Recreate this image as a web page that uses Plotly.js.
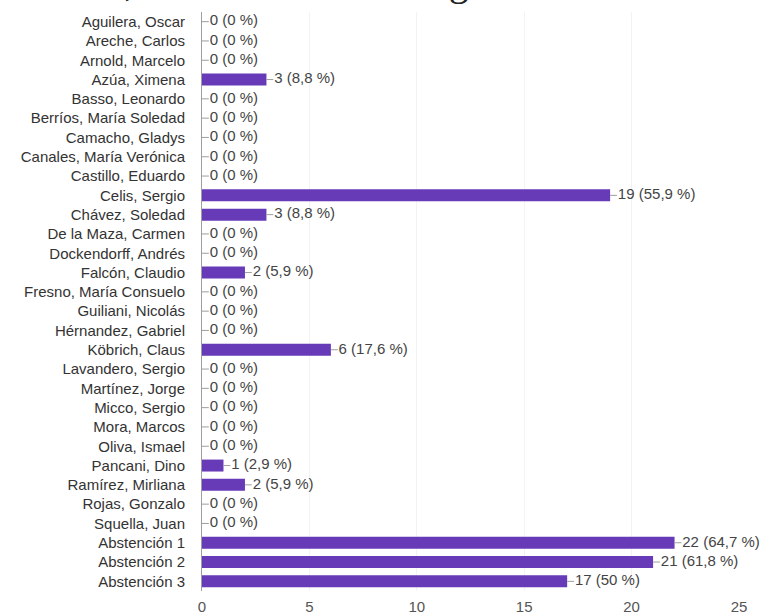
<!DOCTYPE html>
<html>
<head>
<meta charset="utf-8">
<script src="https://cdn.plot.ly/plotly-3.0.1.min.js"></script>
<style>
  html, body { margin: 0; padding: 0; background: #fff; overflow: hidden; }
  #wrap { position: relative; width: 770px; height: 616px; overflow: hidden; }
  #cut { position: absolute; left: -142px; top: -38px; font-family: "Liberation Serif", "DejaVu Serif", serif;
         font-size: 40px; color: #222; white-space: nowrap; line-height: 40px; }
  #chart { position: absolute; left: 0; top: 0; width: 770px; height: 616px; }
</style>
</head>
<body>
<div id="wrap">
  <div id="chart"></div>
  <div id="cut">adalta a elección, el resultado es el siguiente:</div>
</div>
<script>
const names = [
  "Aguilera, Oscar", "Areche, Carlos", "Arnold, Marcelo", "Azúa, Ximena", "Basso, Leonardo",
  "Berríos, María Soledad", "Camacho, Gladys", "Canales, María Verónica", "Castillo, Eduardo",
  "Celis, Sergio", "Chávez, Soledad", "De la Maza, Carmen", "Dockendorff, Andrés",
  "Falcón, Claudio", "Fresno, María Consuelo", "Guiliani, Nicolás", "Hérnandez, Gabriel",
  "Köbrich, Claus", "Lavandero, Sergio", "Martínez, Jorge", "Micco, Sergio", "Mora, Marcos",
  "Oliva, Ismael", "Pancani, Dino", "Ramírez, Mirliana", "Rojas, Gonzalo", "Squella, Juan",
  "Abstención 1", "Abstención 2", "Abstención 3"
];
const votes = [0, 0, 0, 3, 0, 0, 0, 0, 0, 19, 3, 0, 0, 2, 0, 0, 0, 6, 0, 0, 0, 0, 0, 1, 2, 0, 0, 22, 21, 17];
const totalVoters = 34;
const xTicks = [0, 5, 10, 15, 20, 25];

function pct(v) {
  let s = (Math.round(v / totalVoters * 1000) / 10).toFixed(1);
  if (s.endsWith(".0")) s = s.slice(0, -2);
  return s.replace(".", ",");
}
const labels = votes.map(v => v + " (" + pct(v) + " %)");

const barTrace = {
  type: "bar", orientation: "h", x: votes, y: names,
  marker: { color: "#673ab7" }, width: 0.62, hoverinfo: "none"
};
const connTrace = {
  type: "scatter", mode: "markers", x: votes, y: names,
  marker: { size: 1, opacity: 0 }, hoverinfo: "none",
  error_x: { type: "data", symmetric: false, array: votes.map(() => 0.32),
             arrayminus: votes.map(() => 0), color: "#9e9e9e", thickness: 1, width: 0 }
};
const textTrace = {
  type: "scatter", mode: "text", x: votes.map(v => v + 0.36), y: names,
  text: labels, textposition: "middle right", cliponaxis: false, hoverinfo: "none",
  textfont: { family: "Liberation Sans, Arial, sans-serif", size: 15, color: "#444" }
};

const layout = {
  width: 770, height: 616,
  margin: { l: 202, r: 31, t: 12, b: 25 },
  paper_bgcolor: "#fff", plot_bgcolor: "#fff",
  showlegend: false,
  font: { family: "Liberation Sans, Arial, sans-serif", color: "#333" },
  xaxis: {
    range: [0, 25], autorange: false, tickvals: xTicks, ticktext: xTicks.map(String),
    showgrid: true, gridcolor: "#f3f3f3", zeroline: false, showline: false,
    ticks: "", ticklabelstandoff: 5, tickfont: { size: 15, color: "#555" }, fixedrange: true
  },
  yaxis: {
    type: "category", categoryorder: "array", categoryarray: names,
    autorange: false, range: [names.length - 0.5, -0.5],
    showline: true, linecolor: "#9e9e9e", linewidth: 1, showgrid: false, zeroline: false,
    ticks: "", ticklabelstandoff: 13, tickfont: { size: 15, color: "#333" }, fixedrange: true
  }
};

Plotly.newPlot("chart", [barTrace, connTrace, textTrace], layout, { displayModeBar: false, staticPlot: true });
</script>
</body>
</html>
